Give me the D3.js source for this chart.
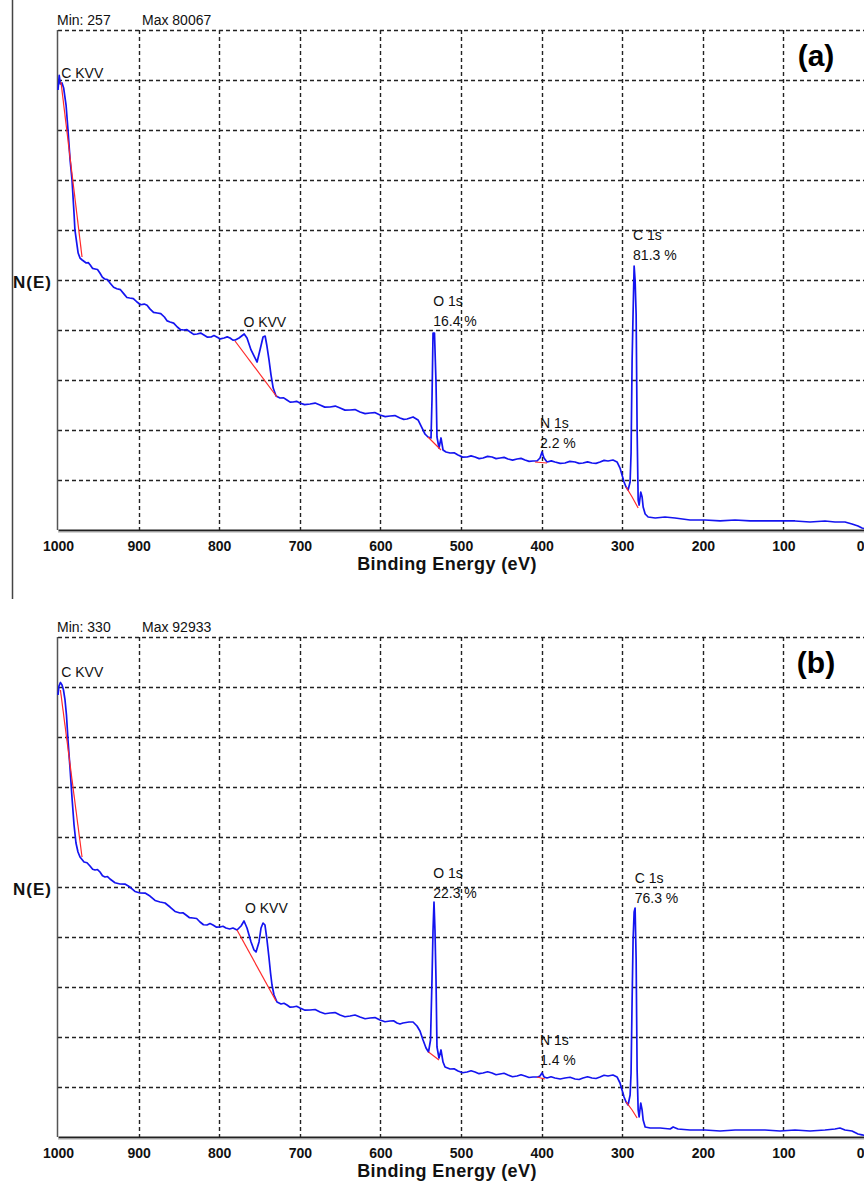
<!DOCTYPE html>
<html><head><meta charset="utf-8">
<script src="https://cdn.jsdelivr.net/npm/d3@7"></script>
<style>
body{margin:0;background:#fff}
svg{display:block}
text{font-family:"Liberation Sans",Arial,sans-serif}
</style></head>
<body><svg id="chart" width="864" height="1189"></svg>
<script>
// ---------- data ----------
const xTickValues = [1000, 900, 800, 700, 600, 500, 400, 300, 200, 100, 0];
const panelNames = ["(a)", "(b)"];
const minCounts = [257, 330];
const maxCounts = [80067, 92933];

const energyA = [1000,998.5,997,995,993,990,987.6,985,982.6,980,979,976.4,975,972.7,970,965,962.5,960,957,954,951,948,945,942,938.7,935.5,931,927,922.5,918,914.5,911,906.5,902,897.5,893,889.5,886,881.5,877,872.5,868,864.5,861,856.5,852,848,844,840,836,831.7,827.5,823,819,814.5,810,806.5,803,798.5,794,790,786.6,783,780,775.4,769,765.5,760.5,755.6,753,749.4,745.6,743,741,738.2,735.7,733,729.5,724.6,720,716,712,708.4,704,700,694,687.3,681,675,669,662.5,656,650,644,637.7,631.5,625.3,619,613,607,600.5,594,588,582,575.7,571,567,559.5,553.3,548.4,544.7,541,537.2,536,534.7,532.9,531,529.8,527.3,524.8,522.3,518.6,513.6,508.5,503.7,498,492.5,487.5,482.6,477.5,472.7,467,461.5,456.5,451.6,446.5,441.7,436,430.5,425.5,420.6,415.5,410.7,405.7,402,399.5,397,393.3,388,383.4,377,371,365,358.5,353.5,348.6,343,337.5,332.5,327.5,322.5,317.6,311.4,306.4,302.7,300.2,297.7,295.2,292.7,290.2,289,287.7,286.5,285.2,284,282.7,281.5,280.2,279,277,275.3,274,271.5,267.8,259,246.9,234.5,215.9,197.3,178.6,160,141.4,122.8,104.2,85.6,67,48.4,36,23.6,14.9,7.4,2.5,0];
const countsA = [77500,80067,78560,78740,77860,74860,70460,65180,61650,55490,52850,50200,48790,47910,47560,47030,47100,46680,46080,45980,45880,45270,44540,44210,44110,43510,42750,42500,42330,41550,40960,40870,40770,40160,39680,39800,39580,38950,38340,38230,38120,37520,36830,36640,36450,35760,35300,35230,35300,34880,34450,34530,34690,34350,33970,34000,34250,34000,33660,33820,34020,33820,33450,33470,33820,34530,33820,31710,30300,29590,31710,34000,34170,32590,29950,27300,25010,23600,23250,23280,22900,22525,22550,22660,22370,22085,22200,22360,22020,21645,21670,21830,21490,21115,21140,21215,20790,20500,20610,20685,20260,19970,20080,20155,19730,19490,19550,19910,19380,17970,16910,16380,16210,22900,34700,34700,25890,16380,14440,16210,14090,13740,13560,13590,13210,12835,12860,13060,12860,12570,12680,12970,12860,12570,12680,12795,12510,12310,12510,12620,12330,12090,12150,12150,12680,13740,12680,11980,12180,11980,11740,11800,12090,11980,11740,11800,12000,11800,11740,11980,12265,12150,12330,11980,10920,9690,8460,7570,7050,8460,13560,29950,38230,46500,44040,37870,17620,5280,4400,6690,5810,4050,2820,2290,2110,2290,2110,1760,1760,1590,1760,1590,1590,1590,1590,1410,1590,1410,1410,1060,700,350,257];

const energyB = [1000,998.8,997,995,993.2,991.3,989.5,987.6,985.1,982.6,980.1,977.7,975.2,972.7,967.7,964,960.3,957,954,951,947.9,944.8,941.7,938.6,935.5,929.3,923.1,917,910.7,904.5,898.3,892,885.9,879.6,873.4,867.2,861,854.8,848.6,845,841.2,836.8,832.5,828,823.8,819.5,815.1,811.4,807.7,803.3,799,795.3,791.6,787,782.9,777.9,772.9,769.2,765.5,760.5,756.8,754.3,750.6,748.1,745.6,743.2,740.7,738.2,736.3,734.5,732,728.3,723.3,719.6,715.9,712,708.4,704,699.8,693.5,687.3,681,674.9,668.7,662.5,656.3,650.1,644,637.7,631.5,625.3,619,612.9,606.7,600.5,594.3,588.1,583.7,579.4,575.7,572,564.5,559.5,554.6,550.9,547.1,543.4,540.3,537.8,536,534.7,533.5,532.3,531,529.8,527.3,524.8,522.3,519.8,513.6,508.6,503.7,498,492.5,487.5,482.6,477.6,472.7,467,461.5,456.5,451.6,446.6,441.7,436,430.5,425.5,420.6,415.6,410.7,404.5,402,399.5,397,393.3,388.3,383.4,377,371,364.7,358.5,353.5,348.6,343,337.5,332.5,327.5,322.5,317.6,311.4,306.4,302.7,300.2,297.7,295.2,292.7,290.2,289,287.7,286.5,285.2,284,282.7,281.5,280.2,279,277,275.3,274,271.5,265.3,252.9,240.5,236.8,230.8,215.9,197.3,178.6,160,141.4,122.8,104.2,85.6,67,48.4,36,29.8,23.6,14.9,7.4,2.5,0];
const countsB = [90370,92210,92933,92410,91390,89350,86280,81170,75440,69310,63790,60110,58270,57250,56220,56070,55410,54750,54590,54685,54180,53420,53160,53255,52750,51990,51730,51720,51110,50200,49890,49880,49270,48360,48050,47835,47020,46110,45800,45845,45390,44835,44780,44670,43960,43400,43340,43640,43340,42890,42940,43085,42730,42530,42730,42320,43140,44160,42730,39870,38230,37820,39870,42730,43750,43340,40280,36600,33530,31080,29030,27600,27190,27340,26990,26535,26580,26725,26370,25920,25970,26065,25560,25205,25350,25445,24940,24590,24740,24935,24530,24180,24330,24425,23920,23570,23720,23765,23310,23110,23310,23510,23510,22690,21670,19830,18200,17380,19830,32100,42320,48050,42320,32100,18400,16150,17790,15330,14310,13900,13945,13490,13140,13290,13540,13290,12940,13090,13340,13090,12735,12880,13030,12680,12325,12470,12720,12470,12170,12270,12270,12470,13090,12270,12060,12310,12060,11860,12060,12210,11860,11760,12060,12310,12060,11965,12270,12620,12470,12680,12270,11040,9610,8180,7160,6540,8590,13090,28010,40280,46000,46820,36190,13700,5520,4090,6950,5520,3480,2050,1840,1840,1640,2050,1640,1430,1430,1230,1430,1430,1430,1230,1430,1230,1430,1640,1840,1430,1230,610,450,330];

// background (red) segments: energies and counts
const bgEnergyA = [[996.3,970.2],[780.4,728.3],[541,524.8],[408.2,393.3],[295.2,287.7,280.2]];
const bgCountsA = [[78920,48090],[33290,23430],[16380,14090],[11980,11800],[7570,5810,3880]];
const bgEnergyB = [[997,970.2],[777.9,729.5],[540.3,527.3],[405.7,395.8],[295.2,287.7,281.5]];
const bgCountsB = [[91390,57250],[42320,27800],[17380,15740],[12270,11860],[7160,5520,3890]];

// peak labels
const peakNames = ["C KVV", "O KVV", "O 1s", "N 1s", "C 1s"];
const peakPercentA = [null, null, "16.4 %", "2.2 %", "81.3 %"];
const peakPercentB = [null, null, "22.3 %", "1.4 %", "76.3 %"];
const labelEnergyA = [996, 770, 534.5, 402, 286.5];
const labelEnergyB = [996, 768, 534.5, 402, 284.5];
const labelCountsA = [79600, 35700, 39500, 18000, 51000];
const labelCountsB = [94000, 45800, 53000, 18800, 52000];

// ---------- layout ----------
const plotLeft = 58, plotRight = 864, plotH = 500;
const panelTops = [30, 637];

const svg = d3.select("#chart");

// figure frame line at left
svg.append("line").attr("x1",12.5).attr("x2",12.5).attr("y1",0).attr("y2",599)
  .attr("stroke","#444").attr("stroke-width",1.5);

const datasets = [
  {e: energyA, c: countsA, be: bgEnergyA, bc: bgCountsA, pct: peakPercentA, le: labelEnergyA, lc: labelCountsA},
  {e: energyB, c: countsB, be: bgEnergyB, bc: bgCountsB, pct: peakPercentB, le: labelEnergyB, lc: labelCountsB}
];

datasets.forEach((ds, i) => {
  const top = panelTops[i], bottom = top + plotH;
  const g = svg.append("g");
  const x = d3.scaleLinear().domain([1000, 0]).range([plotLeft, plotRight]);
  const yMax = maxCounts[i] * 1.1;
  const y = d3.scaleLinear().domain([0, yMax]).range([bottom, top]);

  // horizontal dashed grid
  const yGrid = d3.range(1, 11).map(k => k * yMax / 10);
  g.selectAll(".hg").data(yGrid).join("line")
    .attr("x1", plotLeft).attr("x2", plotRight)
    .attr("y1", d => Math.round(y(d)) + 0.5).attr("y2", d => Math.round(y(d)) + 0.5)
    .attr("stroke", "#222").attr("stroke-width", 1.4).attr("stroke-dasharray", "4,3");
  // vertical dashed grid
  g.selectAll(".vg").data(xTickValues.filter(v => v > 0 && v < 1000)).join("line")
    .attr("x1", d => Math.round(x(d)) + 0.5).attr("x2", d => Math.round(x(d)) + 0.5)
    .attr("y1", top).attr("y2", bottom)
    .attr("stroke", "#222").attr("stroke-width", 1.4).attr("stroke-dasharray", "4,3");

  // left border
  g.append("line").attr("x1", plotLeft - 0.5).attr("x2", plotLeft - 0.5)
    .attr("y1", top).attr("y2", bottom).attr("stroke", "#555").attr("stroke-width", 1.5);

  // bottom axis
  const axis = d3.axisBottom(x).tickValues(xTickValues).tickSize(0).tickPadding(11).tickFormat(d3.format("d"));
  const ag = g.append("g").attr("transform", `translate(0,${bottom})`).call(axis);
  ag.select(".domain").attr("stroke", "#222").attr("stroke-width", 2);
  ag.selectAll("text").attr("font-size", 14).attr("font-weight", "bold").attr("fill", "#111")
    .style("font-family", '"Liberation Sans",Arial,sans-serif');
  ag.selectAll(".tick text").filter(d => d === 0).attr("text-anchor", "end");
  g.append("line").attr("x1", plotLeft).attr("x2", plotRight).attr("y1", bottom + 2).attr("y2", bottom + 2)
    .attr("stroke", "#aaa").attr("stroke-width", 1);

  // axis titles
  g.append("text").attr("x", 447).attr("y", bottom + 40).attr("text-anchor", "middle")
    .attr("font-size", 18).attr("font-weight", "bold").attr("fill", "#111").attr("letter-spacing", 0.4)
    .text("Binding Energy (eV)");
  g.append("text").attr("x", 13).attr("y", y(yMax * 0.5) + 8)
    .attr("font-size", 17).attr("font-weight", "bold").attr("fill", "#111").attr("letter-spacing", 1)
    .text("N(E)");

  // header
  g.append("text").attr("x", 57).attr("y", top - 5).attr("font-size", 14).attr("fill", "#111").text("Min: " + minCounts[i]);
  g.append("text").attr("x", 142).attr("y", top - 5).attr("font-size", 14).attr("fill", "#111").text("Max " + maxCounts[i]);

  // panel label
  g.append("text").attr("x", 816).attr("y", top + 36).attr("text-anchor", "middle")
    .attr("font-size", 30).attr("font-weight", "bold").attr("fill", "#000").text(panelNames[i]);

  // spectrum
  const pts = ds.e.map((e, k) => [e, ds.c[k]]);
  const line = d3.line().x(d => x(d[0])).y(d => y(d[1]));
  g.append("path").datum(pts).attr("d", line).attr("fill", "none")
    .attr("stroke", "#1414f0").attr("stroke-width", 1.7).attr("stroke-linejoin", "round");

  // backgrounds
  ds.be.forEach((seg, s) => {
    const bp = seg.map((e, k) => [e, ds.bc[s][k]]);
    g.append("path").datum(bp).attr("d", line).attr("fill", "none")
      .attr("stroke", "#ff2a2a").attr("stroke-width", 1.2);
  });

  // peak labels
  peakNames.forEach((name, p) => {
    const lx = x(ds.le[p]), ly = y(ds.lc[p]);
    g.append("text").attr("x", lx).attr("y", ly).attr("font-size", 14).attr("fill", "#111").text(name);
    if (ds.pct[p]) {
      g.append("text").attr("x", lx).attr("y", ly + 20).attr("font-size", 14).attr("fill", "#111").text(ds.pct[p]);
    }
  });
});
</script>
</body></html>
